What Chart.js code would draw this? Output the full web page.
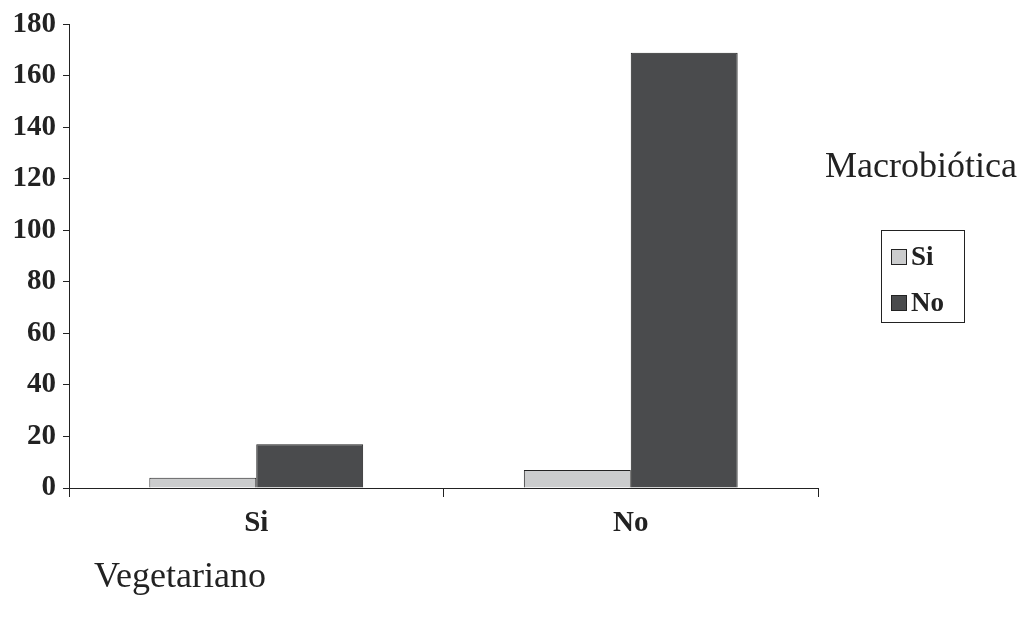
<!DOCTYPE html>
<html>
<head>
<meta charset="utf-8">
<script src="https://cdn.jsdelivr.net/npm/chart.js@4/dist/chart.umd.min.js"></script>
<style>
    html, body { margin: 0; padding: 0; background: #fff; }
    #wrap { width: 1026px; height: 624px; position: relative; }
</style>
</head>
<body>
<div id="wrap"><canvas id="chart"></canvas></div>
<script>
    "use strict";

    // Vegetariano (categories) x Macrobiótica (series)
    const categories = ["Si", "No"];
    const macroSi = [4, 7];
    const macroNo = [17, 169];
    const seriesNames = ["Si", "No"];
    const seriesColors = ["#cbcccd", "#4a4b4d"];
    const yTicks = { min: 0, max: 180, step: 20 };

    const xTitle = "Vegetariano";
    const legendTitle = "Macrobiótica";

    const FONT = "'Liberation Serif', 'Times New Roman', serif";

    // Boxed legend + free-floating titles
    const sideTexts = {
        id: "sideTexts",
        afterDraw(chart) {
            const ctx = chart.ctx;
            const area = chart.chartArea;
            ctx.save();

            ctx.fillStyle = "#222";
            ctx.font = "36px " + FONT;
            ctx.textBaseline = "middle";
            ctx.textAlign = "left";
            ctx.fillText(legendTitle, area.right + 7, 168);
            ctx.fillText(xTitle, 94, 578);

            const bx = area.right + 63, by = 230, bw = 83, bh = 92;
            ctx.strokeStyle = "#222";
            ctx.lineWidth = 1;
            ctx.strokeRect(bx + 0.5, by + 0.5, bw, bh);

            ctx.font = "bold 27px " + FONT;
            chart.data.datasets.forEach(function (ds, i) {
                const cy = by + 27 + i * 46;
                ctx.fillStyle = ds.backgroundColor;
                ctx.fillRect(bx + 10, cy - 8, 16, 16);
                ctx.strokeRect(bx + 10.5, cy - 7.5, 15, 15);
                ctx.fillStyle = "#222";
                ctx.fillText(ds.label, bx + 30, cy + 1);
            });
            ctx.restore();
        }
    };

    new Chart(document.getElementById("chart"), {
        type: "bar",
        data: {
            labels: categories,
            datasets: [
                { label: seriesNames[0], data: macroSi, backgroundColor: seriesColors[0] },
                { label: seriesNames[1], data: macroNo, backgroundColor: seriesColors[1] }
            ]
        },
        options: {
            responsive: true,
            maintainAspectRatio: false,
            animation: false,
            layout: { padding: { top: 12, right: 208, bottom: 76, left: 0 } },
            datasets: {
                bar: {
                    categoryPercentage: 0.571,
                    barPercentage: 1,
                    borderColor: "#222",
                    borderWidth: 1,
                    borderSkipped: "bottom"
                }
            },
            plugins: {
                legend: { display: false },
                tooltip: { enabled: false }
            },
            scales: {
                x: {
                    afterFit(scale) { scale.height = 60; },
                    border: { color: "#222", width: 1 },
                    grid: {
                        offset: true,
                        drawOnChartArea: false,
                        drawTicks: true,
                        tickLength: 9,
                        color: "#222"
                    },
                    ticks: {
                        color: "#222",
                        padding: 9,
                        font: { family: FONT, size: 29, weight: "bold" }
                    }
                },
                y: {
                    min: yTicks.min,
                    max: yTicks.max,
                    afterFit(scale) { scale.width = 69; },
                    border: { color: "#222", width: 1 },
                    grid: {
                        drawOnChartArea: false,
                        drawTicks: true,
                        tickLength: 6,
                        color: "#222"
                    },
                    ticks: {
                        stepSize: yTicks.step,
                        color: "#222",
                        padding: 7,
                        font: { family: FONT, size: 29, weight: "bold" }
                    }
                }
            }
        },
        plugins: [sideTexts]
    });
</script>
</body>
</html>
